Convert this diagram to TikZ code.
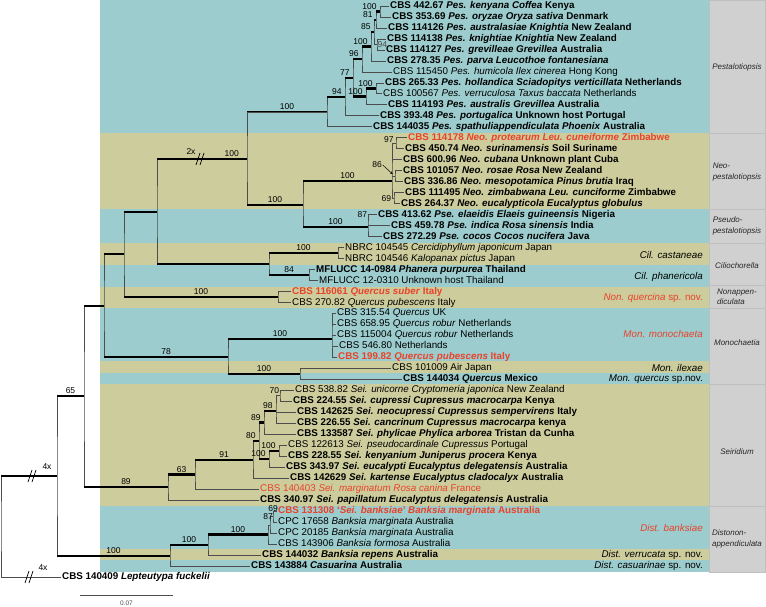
\documentclass[tikz,border=0pt]{standalone}
\usepackage{fontspec}
\setmainfont{Liberation Sans}
\usetikzlibrary{arrows.meta}
\definecolor{bandteal}{RGB}{156,204,205}
\definecolor{bandkhaki}{RGB}{204,204,156}
\definecolor{cladegray}{RGB}{208,208,208}
\definecolor{newred}{RGB}{234,66,42}

\begin{document}
\begin{tikzpicture}[x=1pt, y=-1pt,
		taxon/.style={anchor=west, inner xsep=1.5pt, inner ysep=0pt, text height=7pt, text depth=2pt, font=\fontsize{9.8}{11}\selectfont},
		taxonb/.style={taxon, font=\fontsize{9.8}{11}\selectfont\bfseries},
		newsp/.style={text=newred},
		br/.style={line width=2.3pt},
		vl/.style={line width=0.75pt, black!70},
		bs/.style={font=\fontsize{8.5}{9}\selectfont, inner sep=0.8pt},
		bsm/.style={bs, midway, above},
		bse/.style={bs, pos=1, anchor=south east, xshift=-1.5pt},
		grp/.style={font=\fontsize{8}{10.5}\selectfont\itshape, align=left, text=black!85},
		spname/.style={anchor=east, inner sep=1pt, font=\fontsize{9.8}{11}\selectfont},
		brk/.style={line width=0.75pt}
		]
		\useasboundingbox (0,0) rectangle (766,607);
		
		% Bands
		\foreach \ya/\yb/\c in {0/133/bandteal, 133/209/bandkhaki, 209/243/bandteal, 243/265/bandkhaki,
			265/287/bandteal, 287/308/bandkhaki, 308/361/bandteal, 361/373/bandkhaki, 373/384/bandteal,
			384/506/bandkhaki, 506/549/bandteal, 549/560/bandkhaki, 560/572/bandteal}
		\fill[\c] (100,\ya) rectangle (709,\yb);
		\foreach \ya/\yb in {0/133, 133/209, 209/243, 243/285, 285/308, 308/384, 384/506, 506/572}
		\filldraw[fill=cladegray, draw=black!25, line width=0.75pt] (709,\ya) rectangle (765,\yb);
		
		% Genera
		\node[grp] (gPes) at (737,67) {Pestalotiopsis};
		\node[grp] (gNeo) at (737,172) {Neo-\\pestalotiopsis};
		\node[grp] (gPse) at (737,226) {Pseudo-\\pestalotiopsis};
		\node[grp] (gCil) at (737,266) {Ciliochorella};
		\node[grp] (gNon) at (737,297) {Nonappen-\\diculata};
		\node[grp] (gMon) at (737,343) {Monochaetia};
		\node[grp] (gSei) at (737,452) {Seiridium};
		\node[grp] (gDis) at (737,539) {Distonon-\\appendiculata};
		
		% Species
		\node[spname] (sCas) at (704,255) {\textit{Cil. castaneae}};
		\node[spname] (sPha) at (704,277) {\textit{Cil. phanericola}};
		\node[spname, text=newred] (sNon) at (704,298) {\textit{Non. quercina} sp. nov.};
		\node[spname, text=newred] (sMon) at (704,334) {\textit{Mon. monochaeta}};
		\node[spname] (sIle) at (704,368) {\textit{Mon. ilexae}};
		\node[spname] (sQue) at (704,379) {\textit{Mon. quercus} sp.nov.};
		\node[spname, text=newred] (sBan) at (704,528) {\textit{Dist. banksiae}};
		\node[spname] (sVer) at (704,555) {\textit{Dist. verrucata} sp. nov.};
		\node[spname] (sCsu) at (704,566) {\textit{Dist. casuarinae} sp. nov.};
		
		% Taxa
		\node[taxonb] (t1) at (388.5,6) {CBS 442.67 \textit{Pes. kenyana Coffea} Kenya};
		\node[taxonb] (t2) at (390.5,17) {CBS 353.69 \textit{Pes. oryzae Oryza sativa} Denmark};
		\node[taxonb] (t3) at (386.5,28) {CBS 114126 \textit{Pes. australasiae Knightia} New Zealand};
		\node[taxonb] (t4) at (385.5,38.9) {CBS 114138 \textit{Pes. knightiae Knightia} New Zealand};
		\node[taxonb] (t5) at (384.5,49.9) {CBS 114127 \textit{Pes. grevilleae Grevillea} Australia};
		\node[taxonb] (t6) at (385.5,60.9) {CBS 278.35 \textit{Pes. parva Leucothoe fontanesiana}};
		\node[taxon] (t7) at (391.5,71.9) {CBS 115450 \textit{Pes. humicola Ilex cinerea} Hong Kong};
		\node[taxonb] (t8) at (383.5,82.9) {CBS 265.33 \textit{Pes. hollandica Sciadopitys verticillata} Netherlands};
		\node[taxon] (t9) at (381.5,93.8) {CBS 100567 \textit{Pes. verruculosa Taxus baccata} Netherlands};
		\node[taxonb] (t10) at (386.5,104.8) {CBS 114193 \textit{Pes. australis Grevillea} Australia};
		\node[taxonb] (t11) at (378.5,115.8) {CBS 393.48 \textit{Pes. portugalica} Unknown host Portugal};
		\node[taxonb] (t12) at (371.5,126.8) {CBS 144035 \textit{Pes. spathuliappendiculata Phoenix} Australia};
		\node[taxonb, newsp] (t13) at (406.5,137.8) {CBS 114178 \textit{Neo. protearum Leu. cuneiforme} Zimbabwe};
		\node[taxonb] (t14) at (403.5,148.7) {CBS 450.74 \textit{Neo. surinamensis} Soil Suriname};
		\node[taxonb] (t15) at (401.5,159.7) {CBS 600.96 \textit{Neo. cubana} Unknown plant Cuba};
		\node[taxonb] (t16) at (401.5,170.7) {CBS 101057 \textit{Neo. rosae Rosa} New Zealand};
		\node[taxonb] (t17) at (402.5,181.7) {CBS 336.86 \textit{Neo. mesopotamica Pinus brutia} Iraq};
		\node[taxonb] (t18) at (403.5,192.7) {CBS 111495 \textit{Neo. zimbabwana Leu. cunciforme} Zimbabwe};
		\node[taxonb] (t19) at (399.5,203.6) {CBS 264.37 \textit{Neo. eucalypticola Eucalyptus globulus}};
		\node[taxonb] (t20) at (376.5,214.6) {CBS 413.62 \textit{Pse. elaeidis Elaeis guineensis} Nigeria};
		\node[taxonb] (t21) at (389.5,225.6) {CBS 459.78 \textit{Pse. indica Rosa sinensis} India};
		\node[taxonb] (t22) at (381.5,236.6) {CBS 272.29 \textit{Pse. cocos Cocos nucifera} Java};
		\node[taxon] (t23) at (343.5,247.6) {NBRC 104545 \textit{Cercidiphyllum japonicum} Japan};
		\node[taxon] (t24) at (343.5,258.5) {NBRC 104546 \textit{Kalopanax pictus} Japan};
		\node[taxonb] (t25) at (314.5,269.5) {MFLUCC 14-0984 \textit{Phanera purpurea} Thailand};
		\node[taxon] (t26) at (317.5,280.5) {MFLUCC 12-0310 Unknown host Thailand};
		\node[taxonb, newsp] (t27) at (290.5,291.5) {CBS 116061 \textit{Quercus suber} Italy};
		\node[taxon] (t28) at (290.5,302.5) {CBS 270.82 \textit{Quercus pubescens} Italy};
		\node[taxon] (t29) at (335.5,313.4) {CBS 315.54 \textit{Quercus} UK};
		\node[taxon] (t30) at (335.5,324.4) {CBS 658.95 \textit{Quercus robur} Netherlands};
		\node[taxon] (t31) at (335.5,335.4) {CBS 115004 \textit{Quercus robur} Netherlands};
		\node[taxon] (t32) at (337.5,346.4) {CBS 546.80 Netherlands};
		\node[taxonb, newsp] (t33) at (336.5,357.4) {CBS 199.82 \textit{Quercus pubescens} Italy};
		\node[taxon] (t34) at (390.5,368.3) {CBS 101009 Air Japan};
		\node[taxonb] (t35) at (401.5,379.3) {CBS 144034 \textit{Quercus} Mexico};
		\node[taxon] (t36) at (293.5,390.3) {CBS 538.82 \textit{Sei. unicorne Cryptomeria japonica} New Zealand};
		\node[taxonb] (t37) at (291.5,401.3) {CBS 224.55 \textit{Sei. cupressi Cupressus macrocarpa} Kenya};
		\node[taxonb] (t38) at (295.5,412.3) {CBS 142625 \textit{Sei. neocupressi Cupressus sempervirens} Italy};
		\node[taxonb] (t39) at (295.5,423.2) {CBS 226.55 \textit{Sei. cancrinum Cupressus macrocarpa} kenya};
		\node[taxonb] (t40) at (295.5,434.2) {CBS 133587 \textit{Sei. phylicae Phylica arborea} Tristan da Cunha};
		\node[taxon] (t41) at (286.5,445.2) {CBS 122613 \textit{Sei. pseudocardinale Cupressus} Portugal};
		\node[taxonb] (t42) at (286.5,456.2) {CBS 228.55 \textit{Sei. kenyanium Juniperus procera} Kenya};
		\node[taxonb] (t43) at (284.5,467.2) {CBS 343.97 \textit{Sei. eucalypti Eucalyptus delegatensis} Australia};
		\node[taxonb] (t44) at (288.5,478.1) {CBS 142629 \textit{Sei. kartense Eucalyptus cladocalyx} Australia};
		\node[taxon, newsp] (t45) at (258.5,489.1) {CBS 140403 \textit{Sei. marginatum Rosa canina} France};
		\node[taxonb] (t46) at (258.5,500.1) {CBS 340.97 \textit{Sei. papillatum Eucalyptus delegatensis} Australia};
		\node[taxonb, newsp] (t47) at (276.5,511.1) {CBS 131308 `\textit{Sei. banksiae}' \textit{Banksia marginata} Australia};
		\node[taxon] (t48) at (276.5,522.1) {CPC 17658 \textit{Banksia marginata} Australia};
		\node[taxon] (t49) at (276.5,533) {CPC 20185 \textit{Banksia marginata} Australia};
		\node[taxon] (t50) at (276.5,544) {CBS 143906 \textit{Banksia formosa} Australia};
		\node[taxonb] (t51) at (260.5,555) {CBS 144032 \textit{Banksia repens} Australia};
		\node[taxonb] (t52) at (249.5,566) {CBS 143884 \textit{Casuarina} Australia};
		\node[taxonb] (t53) at (60.5,577) {CBS 140409 \textit{Lepteutypa fuckelii}};
		
		% Inner nodes
		\coordinate (p1) at (380,11.5);
		\coordinate (p2) at (376,19.7);
		\coordinate (p4) at (377,44.4);
		\coordinate (p3) at (374,32);
		\coordinate (p5) at (371,46.5);
		\coordinate (p6) at (362,59);
		\coordinate (p10) at (376,88.4);
		\coordinate (p8) at (366,96.6);
		\coordinate (p7) at (353,77.8);
		\coordinate (p9) at (345,97);
		\coordinate (p11) at (327,112);
		\coordinate (nA) at (396,143.3);
		\coordinate (nB) at (395,176.2);
		\coordinate (nC) at (394,198.2);
		\coordinate (n0) at (392,181);
		\coordinate (pse) at (368,227);
		\coordinate (n303) at (303,205);
		\coordinate (r247) at (247,159);
		\coordinate (c1) at (338,253);
		\coordinate (c2) at (309,275);
		\coordinate (c0) at (269,264);
		\coordinate (r157) at (157,212);
		\coordinate (non) at (278,297);
		\coordinate (r124) at (124,254);
		\coordinate (m1) at (332,339);
		\coordinate (m2) at (300,374);
		\coordinate (m0) at (228,357);
		\coordinate (r104) at (104,306);
		\coordinate (s70) at (280,395.8);
		\coordinate (s98) at (276,411);
		\coordinate (s89) at (264,422.5);
		\coordinate (s100b) at (279,450.7);
		\coordinate (s100a) at (269,459);
		\coordinate (s80) at (259,441);
		\coordinate (s91) at (253,460);
		\coordinate (s63) at (195,474.5);
		\coordinate (s89b) at (168,487);
		\coordinate (r84) at (84,396);
		\coordinate (d69) at (273,516.6);
		\coordinate (d87) at (270,525);
		\coordinate (d1) at (268,534.5);
		\coordinate (d2) at (208,545);
		\coordinate (d0) at (170,556);
		\coordinate (r57) at (57,476);
		\coordinate (root) at (1,526);
		
		% Pestalotiopsis
		\draw[vl] (t1.west) -| (p1) |- (t2.west);
		\draw[vl] (p1) -| (p2) |- (t3.west);
		\draw[vl] (t4.west) -| (p4) node[bs, right=-0.5pt] {94} |- (t5.west);
		\draw[vl] (p2) -| (p3) |- (p4);
		\draw[vl] (p3) -| (p5) |- (t6.west);
		\draw[vl] (p5) -| (p6) |- (t7.west);
		\draw[vl] (t8.west) -| (p10) |- (t9.west);
		\draw[vl] (p10) -| (p8) |- (t10.west);
		\draw[vl] (p6) -| (p7) |- (p8);
		\draw[vl] (p7) -| (p9) |- (t11.west);
		\draw[vl] (p9) -| (p11) |- (t12.west);
		\draw[br] (p2 |- p1) -- node[bse] {100} (p1);
		\draw[br] (p3 |- p2) -- node[bse] {81} (p2);
		\draw[br] (p5 |- p3) -- node[bse] {85} (p3);
		\draw[br] (p6 |- p5) -- node[bse] {100} (p5);
		\draw[br] (p7 |- p6) -- node[bse] {96} (p6);
		\draw[br] (p9 |- p7) -- node[bse] {77} (p7);
		\draw[br] (p7 |- p8) -- node[bse] {100} (p8);
		\draw[br] (p8 |- p10) -- node[bse] {100} (p10);
		\draw[br] (p11 |- p9) -- node[bse] {94} (p9);
		\draw[br] (r247 |- p11) -- node[bsm] {100} (p11);
		
		% Neo- and Pseudopestalotiopsis
		\draw[vl] (t13.west) -| (nA) |- (t14.west);
		\draw[vl] (t16.west) -| (nB) |- (t17.west);
		\draw[vl] (t18.west) -| (nC) |- (t19.west);
		\draw[vl] (nA) -| (n0) |- (nC);
		\draw[vl] (n0 |- t15) -- (t15.west);
		\draw[vl] (n0 |- nB) -- (nB);
		\path (n0 |- nA) -- node[bse] {97} (nA);
		\path (n0 |- nC) node[bs, anchor=east] {69};
		\node[bs] (l86) at (377,165) {86};
		\draw[-{Stealth[length=3pt, width=2.5pt]}, line width=0.5pt, shorten >=3pt] (l86.east) -- (nB);
		\draw[vl] (t20.west) -| (pse) |- (t22.west);
		\draw[vl] (pse |- t21) -- (t21.west);
		\path (pse |- t20) node[bs, anchor=east] {87};
		\draw[vl] (n0) -| (n303) |- (pse);
		\draw[br] (n303 |- n0) -- node[bsm] {100} (n0);
		\draw[br] (n303 |- pse) -- node[bsm] {100} (pse);
		\draw[vl] (p11) -| (r247) |- (n303);
		\draw[br] (r247 |- n303) -- node[bsm] {100} (n303);
		
		% Ciliochorella, Nonappendiculata
		\draw[vl] (t23.west) -| (c1) |- (t24.west);
		\draw[vl] (t25.west) -| (c2) |- (t26.west);
		\draw[vl] (c1) -| (c0) |- (c2);
		\draw[br] (c0 |- c1) -- node[bsm] {100} (c1);
		\draw[br] (c0 |- c2) -- node[bsm] {84} (c2);
		\draw[vl] (r247) -| (r157) |- (c0);
		\draw[br] (r157 |- r247) -- node[bs, pos=0.83, above] {100} (r247);
		\draw[br] (r157 |- c0) -- (c0);
		\draw[brk] (196,165) -- (200,153) (200,165) -- (204,153);
		\node[bs] (lTwo) at (191,152) {2x};
		\draw[vl] (t27.west) -| (non) |- (t28.west);
		\draw[vl] (r157) -| (r124) |- (non);
		\draw[br] (r124 |- r157) -- (r157);
		\draw[br] (r124 |- non) -- node[bsm] {100} (non);
		
		% Monochaetia
		\draw[vl] (t29.west) -| (m1) |- (t33.west);
		\foreach \t in {t30,t31,t32} \draw[vl] (m1 |- \t) -- (\t.west);
		\draw[vl] (t34.west) -| (m2) |- (t35.west);
		\draw[vl] (m1) -| (m0) |- (m2);
		\draw[br] (m0 |- m1) -- node[bsm] {100} (m1);
		\draw[br] (m0 |- m2) -- node[bsm] {100} (m2);
		\draw[vl] (r124) -| (r104) |- (m0);
		\draw[br] (r104 |- r124) -- (r124);
		\draw[br] (r104 |- m0) -- node[bsm] {78} (m0);
		
		% Seiridium
		\draw[vl] (t36.west) -| (s70) |- (t37.west);
		\path (s70 |- t36) node[bs, anchor=east] {70};
		\draw[vl] (s70) -| (s98) |- (t39.west);
		\draw[vl] (s98 |- t38) -- (t38.west);
		\draw[vl] (s98) -| (s89) |- (t40.west);
		\draw[vl] (t41.west) -| (s100b) |- (t42.west);
		\draw[vl] (s100b) -| (s100a) |- (t43.west);
		\draw[vl] (s89) -| (s80) |- (s100a);
		\draw[vl] (s80) -| (s91) |- (t44.west);
		\draw[vl] (s91) -| (s63) |- (t45.west);
		\draw[vl] (s63) -| (s89b) |- (t46.west);
		\draw[br] (s89 |- s98) -- node[bse] {98} (s98);
		\draw[br] (s80 |- s89) -- node[bse] {89} (s89);
		\draw[br] (s80 |- s100a) -- node[bse] {100} (s100a);
		\draw[br] (s100a |- s100b) -- node[bse] {100} (s100b);
		\draw[br] (s91 |- s80) -- node[bse] {80} (s80);
		\draw[br] (s63 |- s91) -- node[bsm] {91} (s91);
		\draw[br] (s89b |- s63) -- node[bsm] {63} (s63);
		\draw[vl] (r104) -| (r84) |- (s89b);
		\draw[br] (r84 |- r104) -- (r104);
		\draw[br] (r84 |- s89b) -- node[bsm] {89} (s89b);
		
		% Distononappendiculata
		\draw[vl] (t47.west) -| (d69) |- (t48.west);
		\path (d69 |- t47) node[bs, yshift=3pt] {69};
		\draw[vl] (d69) -| (d87) |- (t49.west);
		\path (d87 |- d69) node[bs, xshift=-2pt] {87};
		\draw[vl] (d87) -| (d1) |- (t50.west);
		\draw[vl] (d1) -| (d2) |- (t51.west);
		\draw[vl] (d2) -| (d0) |- (t52.west);
		\draw[br] (d2 |- d1) -- node[bsm] {100} (d1);
		\draw[br] (d0 |- d2) -- node[bsm] {100} (d2);
		
		% Root
		\draw[vl] (r84) -| (r57) |- (d0);
		\draw[br] (r57 |- r84) -- node[bsm] {65} (r84);
		\draw[br] (r57 |- d0) -- node[bsm] {100} (d0);
		\draw[vl] (r57) -| (root) |- (t53.west);
		\draw[br] (root |- r57) -- (r57);
		\draw[brk] (28,482) -- (32,470) (32,482) -- (36,470);
		\node[bs] (lFourA) at (47,467) {4x};
		\draw[brk] (25,583) -- (29,571) (29,583) -- (33,571);
		\node[bs] (lFourB) at (43,568) {4x};
		
		% Scale
		\coordinate (sbL) at (80,595);
		\coordinate (sbR) at (173,595);
		\draw[vl] (sbL) -- node[below=2pt, font=\fontsize{6.5}{7}\selectfont] {0.07} (sbR);
		
	\end{tikzpicture}
\end{document}
